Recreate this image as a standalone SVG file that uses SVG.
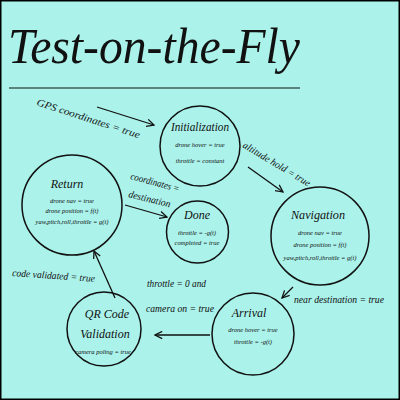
<svg xmlns="http://www.w3.org/2000/svg" width="400" height="400" viewBox="0 0 400 400">
<defs>
<style>
.bg{fill:#aaf2ea;stroke:#000;stroke-width:1.5}
.node{fill:none;stroke:#111;stroke-width:1.5}
.edge{fill:none;stroke:#111;stroke-width:1.3}
text{font-family:"Liberation Serif","DejaVu Serif",serif;font-style:italic;fill:#111}
.t{font-size:12px;text-anchor:middle}
.s{font-size:6.5px;text-anchor:middle}
.l{font-size:10px}
</style>
<marker id="arr" viewBox="0 0 10 10" refX="9" refY="5" markerWidth="9" markerHeight="9" markerUnits="userSpaceOnUse" orient="auto">
<path d="M1,1 L9,5 L1,9" fill="none" stroke="#111" stroke-width="1.4"/>
</marker>
</defs>
<rect class="bg" x="0.75" y="0.75" width="398.5" height="398.5"/>
<g id="title">
<text x="8" y="63" font-size="50" textLength="292" lengthAdjust="spacingAndGlyphs">Test-on-the-Fly</text>
<line x1="9" y1="88" x2="300" y2="88" stroke="#111" stroke-width="1.2"/>
</g>
<g id="connectors">
<line class="edge" x1="97" y1="107" x2="154" y2="125" marker-end="url(#arr)"/>
<text class="l" transform="translate(36,105) rotate(18)" textLength="108" lengthAdjust="spacingAndGlyphs">GPS coordinates = true</text>
<line class="edge" x1="248" y1="167" x2="283" y2="192" marker-end="url(#arr)"/>
<text class="l" transform="translate(242,147) rotate(31)" textLength="77" lengthAdjust="spacingAndGlyphs">altitude hold = true</text>
<line class="edge" x1="293" y1="287" x2="282" y2="298" marker-end="url(#arr)"/>
<text class="l" x="294" y="303" textLength="90" lengthAdjust="spacingAndGlyphs">near destination = true</text>
<line class="edge" x1="210" y1="335" x2="155" y2="335" marker-end="url(#arr)"/>
<text class="l" x="147" y="287" textLength="59" lengthAdjust="spacingAndGlyphs">throttle = 0 and</text>
<text class="l" x="146" y="312" textLength="68" lengthAdjust="spacingAndGlyphs">camera on = true</text>
<line class="edge" x1="115" y1="298" x2="94" y2="251" marker-end="url(#arr)"/>
<text class="l" transform="translate(12,276) rotate(4)" textLength="83" lengthAdjust="spacingAndGlyphs">code validated = true</text>
<line class="edge" x1="125" y1="205" x2="167" y2="217" marker-end="url(#arr)"/>
<text class="l" transform="translate(130,179) rotate(15)" textLength="50" lengthAdjust="spacingAndGlyphs">coordinates =</text>
<text class="l" transform="translate(128,197) rotate(14)" textLength="43" lengthAdjust="spacingAndGlyphs">destination</text>
</g>
<g id="initialization">
<circle class="node" cx="200" cy="146" r="40"/>
<text class="t" x="200" y="131" textLength="58" lengthAdjust="spacingAndGlyphs">Initialization</text>
<text class="s" x="200" y="147">drone hover = true</text>
<text class="s" x="200" y="163">throttle = constant</text>
</g>
<g id="return">
<circle class="node" cx="72" cy="205" r="50"/>
<text class="t" x="67" y="188">Return</text>
<text class="s" x="72" y="203">drone nav = true</text>
<text class="s" x="72" y="213">drone position = f(t)</text>
<text class="s" x="72" y="224">yaw,pitch,roll,throttle = g(t)</text>
</g>
<g id="done">
<circle class="node" cx="197.5" cy="232" r="31"/>
<text class="t" x="197" y="219">Done</text>
<text class="s" x="197" y="235">throttle = -g(t)</text>
<text class="s" x="197" y="245">completed = true</text>
</g>
<g id="navigation">
<circle class="node" cx="320" cy="236" r="49"/>
<text class="t" x="318" y="219" textLength="54" lengthAdjust="spacingAndGlyphs">Navigation</text>
<text class="s" x="320" y="235">drone nav = true</text>
<text class="s" x="320" y="247">drone position = f(t)</text>
<text class="s" x="320" y="260">yaw,pitch,roll,throttle = g(t)</text>
</g>
<g id="arrival">
<circle class="node" cx="253" cy="334" r="41"/>
<text class="t" x="249" y="317">Arrival</text>
<text class="s" x="253" y="332">drone hover = true</text>
<text class="s" x="253" y="344">throttle = -g(t)</text>
</g>
<g id="qr-code-validation">
<circle class="node" cx="104" cy="329" r="37"/>
<text class="t" x="107" y="318">QR Code</text>
<text class="t" x="105" y="338">Validation</text>
<text class="s" x="103" y="354">camera poling = true</text>
</g>
</svg>
